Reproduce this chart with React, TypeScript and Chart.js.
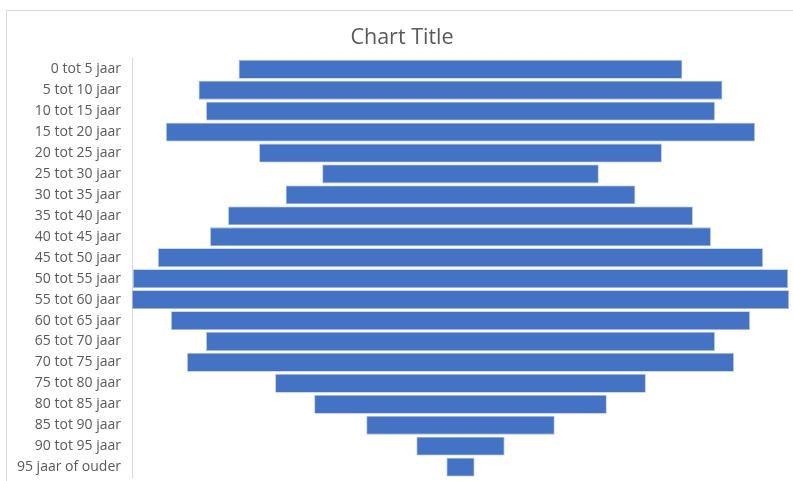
import React, { useEffect, useRef } from "react";
import { Chart, registerables } from "chart.js";

Chart.register(...registerables);

const categories = [
  "0 tot 5 jaar", "5 tot 10 jaar", "10 tot 15 jaar", "15 tot 20 jaar", "20 tot 25 jaar",
  "25 tot 30 jaar", "30 tot 35 jaar", "35 tot 40 jaar", "40 tot 45 jaar", "45 tot 50 jaar",
  "50 tot 55 jaar", "55 tot 60 jaar", "60 tot 65 jaar", "65 tot 70 jaar", "70 tot 75 jaar",
  "75 tot 80 jaar", "80 tot 85 jaar", "85 tot 90 jaar", "90 tot 95 jaar", "95 jaar of ouder",
];

const values = [443, 523, 508, 588, 402, 276, 349, 464, 500, 604, 654, 656, 578, 508, 546, 370, 292, 188, 88, 28];

const axisMax = 656;

export default function App() {
  const ref = useRef<HTMLCanvasElement | null>(null);

  useEffect(() => {
    if (!ref.current) return;
    const chart = new Chart(ref.current, {
      type: "bar",
      data: {
        labels: categories,
        datasets: [
          {
            label: "Bevolking",
            data: values.map((v) => [(axisMax - v) / 2, (axisMax + v) / 2]) as any,
            backgroundColor: "#4472C4",
            borderColor: "#a4b9e4",
            borderWidth: 0.8,
            borderSkipped: false,
            barPercentage: 0.9,
            categoryPercentage: 1,
          },
        ],
      },
      options: {
        indexAxis: "y",
        animation: false,
        responsive: false,
        maintainAspectRatio: false,
        layout: { padding: { left: 8, right: 13, top: 0, bottom: 4 } },
        plugins: {
          legend: { display: false },
          tooltip: { enabled: false },
          title: {
            display: true,
            text: "Chart Title",
            color: "#595959",
            font: { family: "Open Sans", size: 21.5, weight: "normal" },
            padding: { top: 14, bottom: 8 },
          },
        },
        scales: {
          x: { display: false, min: 0, max: axisMax },
          y: {
            grid: { display: false },
            border: { display: true, color: "#d9d9d9", width: 1 },
            ticks: {
              color: "#595959",
              font: { family: "Open Sans", size: 14 },
              padding: 3,
              autoSkip: false,
            },
            afterFit: (scale: any) => {
              scale.width = 117;
            },
          },
        },
      },
    });
    return () => chart.destroy();
  }, []);

  return (
    <div
      style={{
        position: "absolute",
        left: 6,
        top: 10,
        width: 797,
        height: 484,
        border: "1px solid #d9d9d9",
        background: "#fff",
      }}
    >
      <canvas ref={ref} width={795} height={478} style={{ display: "block" }} />
    </div>
  );
}
